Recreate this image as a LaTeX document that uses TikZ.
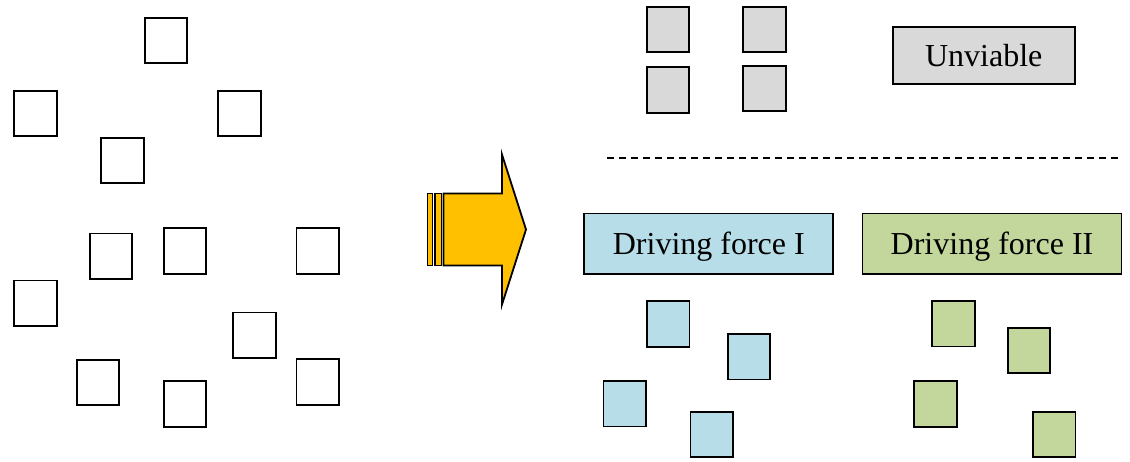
\documentclass[tikz,border=0pt]{standalone}
\usepackage{fontspec}
\setmainfont{Liberation Serif}
\definecolor{grayfill}{HTML}{D9D9D9}
\definecolor{bluefill}{HTML}{B7DEE8}
\definecolor{greenfill}{HTML}{C3D69B}
\definecolor{arrowfill}{HTML}{FFC000}
\begin{document}
\begin{tikzpicture}[x=1pt,y=-1pt,
  sq/.style={draw=black,line width=1.9pt,minimum width=42.5pt,minimum height=45.5pt,inner sep=0pt,outer sep=0pt},
  lbl/.style={draw=black,line width=1.9pt,inner sep=0pt,outer sep=0pt,
    font=\fontsize{32}{38}\selectfont,text height=21pt,text depth=0pt,align=center},
  arr/.style={draw=black,line width=1.8pt,fill=arrowfill,line join=miter}]
\useasboundingbox (0,0) rectangle (1130,461);
% left: unsorted squares
\node[sq] (a) at (165.9,40.5) {};
\node[sq] (b) at (35.5,113.3) {};
\node[sq] (c) at (239.5,113.5) {};
\node[sq] (d) at (122.3,160.5) {};
\node[sq] (e) at (111,256.2) {};
\node[sq] (f) at (184.8,251) {};
\node[sq] (g) at (317.7,251) {};
\node[sq] (h) at (35.5,303.2) {};
\node[sq] (i) at (254.3,335.2) {};
\node[sq] (j) at (97.8,382.3) {};
\node[sq] (k) at (184.8,404) {};
\node[sq] (l) at (317.7,382) {};
% striped arrow
\draw[arr] (427.5,193.5) rectangle (432.5,265.5);
\draw[arr] (435,193.5) rectangle (441.5,265.5);
\draw[arr] (443.5,193.5) -- (502,193.5) -- (502,154.5) -- (526,229.5) -- (502,304.5) -- (502,265.5) -- (443.5,265.5) -- cycle;
% unviable
\node[sq,fill=grayfill] (g1) at (668,29.5) {};
\node[sq,fill=grayfill] (g2) at (764.3,29.5) {};
\node[sq,fill=grayfill] (g3) at (668,90) {};
\node[sq,fill=grayfill] (g4) at (764.3,88.3) {};
\node[lbl,fill=grayfill,minimum width=182pt,minimum height=57pt] (unv) at (983.7,55.5) {Unviable};
% dashed separator
\coordinate (dl) at (607,158.3);
\coordinate (dr) at (1118,158.3);
\draw[line width=2pt,dash pattern=on 7pt off 5pt] (dl) -- (dr);
% driving forces
\node[lbl,fill=bluefill,minimum width=249pt,minimum height=60.5pt] (df1) at (708.8,243.7) {Driving force I};
\node[lbl,fill=greenfill,minimum width=259pt,minimum height=60.5pt] (df2) at (992,243.7) {Driving force II};
\node[sq,fill=bluefill] (b1) at (668.2,323.8) {};
\node[sq,fill=bluefill] (b2) at (748.8,356.7) {};
\node[sq,fill=bluefill] (b3) at (624.7,403.7) {};
\node[sq,fill=bluefill] (b4) at (711.7,434.3) {};
\node[sq,fill=greenfill] (h1) at (953.3,323.7) {};
\node[sq,fill=greenfill] (h2) at (1028.8,350.3) {};
\node[sq,fill=greenfill] (h3) at (935.3,403.8) {};
\node[sq,fill=greenfill] (h4) at (1054.2,434.3) {};
\end{tikzpicture}
\end{document}
